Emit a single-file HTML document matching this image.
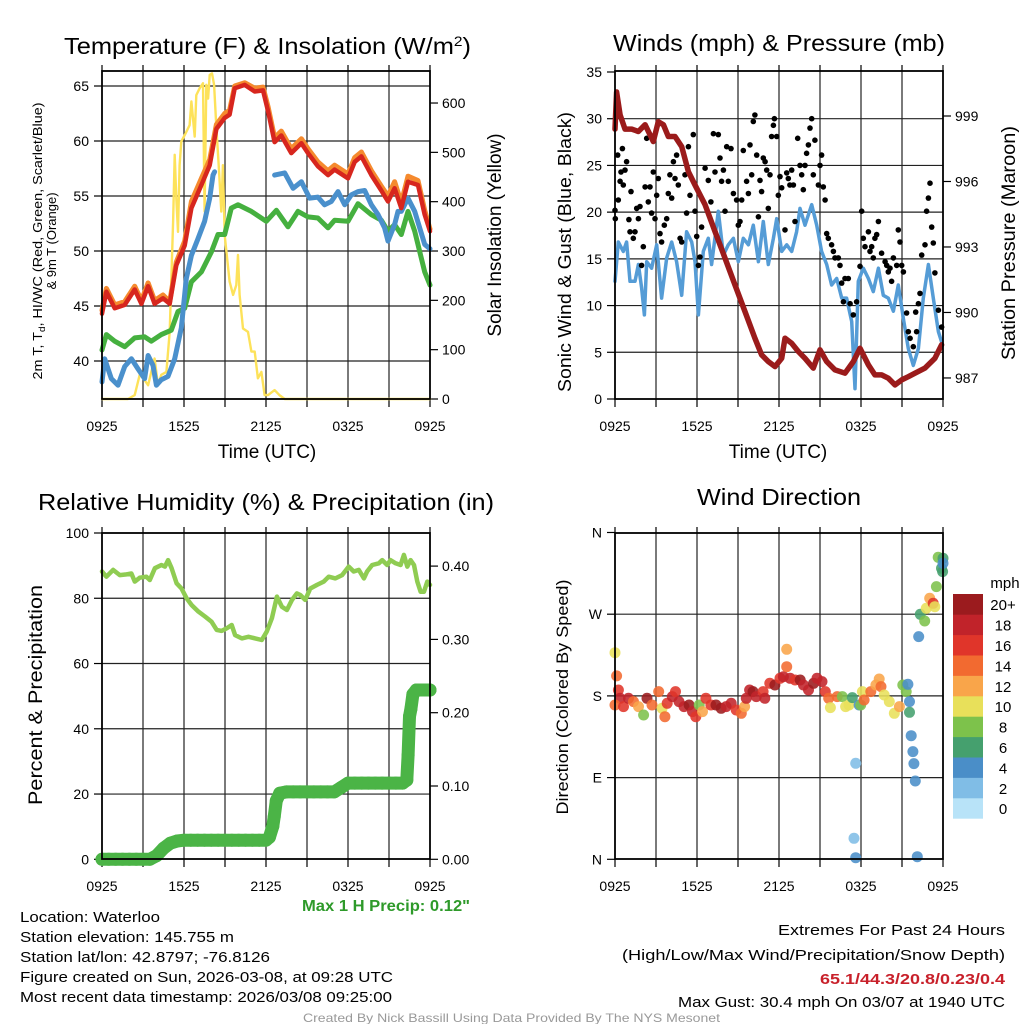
<!DOCTYPE html>
<html><head><meta charset="utf-8"><style>
html,body{margin:0;padding:0;background:#fff}
svg{display:block;font-family:"Liberation Sans",Arial,sans-serif}
</style></head><body>
<svg id="fig" width="1024" height="1024" viewBox="0 0 1024 1024" xmlns="http://www.w3.org/2000/svg">
<rect width="1024" height="1024" fill="#fff"/>
<g id="layer"></g>
<!-- titles -->
<text x="64" y="54" font-size="23" textLength="407" lengthAdjust="spacingAndGlyphs">Temperature (F) &amp; Insolation (W/m<tspan dy="-8" font-size="14">2</tspan><tspan dy="8">)</tspan></text>
<text x="613" y="51" font-size="23" textLength="332" lengthAdjust="spacingAndGlyphs">Winds (mph) &amp; Pressure (mb)</text>
<text x="38" y="510" font-size="23" textLength="456" lengthAdjust="spacingAndGlyphs">Relative Humidity (%) &amp; Precipitation (in)</text>
<text x="697" y="505" font-size="23" textLength="164" lengthAdjust="spacingAndGlyphs">Wind Direction</text>
<!-- axis titles -->
<text x="267" y="458" font-size="19" text-anchor="middle">Time (UTC)</text>
<text x="778" y="458" font-size="19" text-anchor="middle">Time (UTC)</text>
<text transform="translate(42,241) rotate(-90)" font-size="13" text-anchor="middle" textLength="277" lengthAdjust="spacingAndGlyphs">2m T, T<tspan dy="3" font-size="9">d</tspan><tspan dy="-3">, HI/WC (Red, Green, Scarlet/Blue)</tspan></text>
<text transform="translate(56,241) rotate(-90)" font-size="13" text-anchor="middle">&amp; 9m T (Orange)</text>
<text transform="translate(501,235) rotate(-90)" font-size="19" text-anchor="middle">Solar Insolation (Yellow)</text>
<text transform="translate(571,252) rotate(-90)" font-size="18" text-anchor="middle" textLength="280" lengthAdjust="spacingAndGlyphs">Sonic Wind &amp; Gust (Blue, Black)</text>
<text transform="translate(1015,243) rotate(-90)" font-size="19" text-anchor="middle" textLength="234" lengthAdjust="spacingAndGlyphs">Station Pressure (Maroon)</text>
<text transform="translate(42,695) rotate(-90)" font-size="19" text-anchor="middle" textLength="220" lengthAdjust="spacingAndGlyphs">Percent &amp; Precipitation</text>
<text transform="translate(568,697) rotate(-90)" font-size="17" text-anchor="middle" textLength="235" lengthAdjust="spacingAndGlyphs">Direction (Colored By Speed)</text>
<text x="302" y="911" font-size="16" font-weight="bold" fill="#2e9a2a" textLength="168" lengthAdjust="spacingAndGlyphs">Max 1 H Precip: 0.12"</text>
<!-- footer -->
<g font-size="15">
<text x="20" y="922" textLength="140" lengthAdjust="spacingAndGlyphs">Location: Waterloo</text>
<text x="20" y="942" textLength="214" lengthAdjust="spacingAndGlyphs">Station elevation: 145.755 m</text>
<text x="20" y="962" textLength="250" lengthAdjust="spacingAndGlyphs">Station lat/lon: 42.8797; -76.8126</text>
<text x="20" y="982" textLength="373" lengthAdjust="spacingAndGlyphs">Figure created on Sun, 2026-03-08, at 09:28 UTC</text>
<text x="20" y="1002" textLength="372" lengthAdjust="spacingAndGlyphs">Most recent data timestamp: 2026/03/08 09:25:00</text>
</g>
<g font-size="15">
<text x="1005" y="935" text-anchor="end" textLength="227" lengthAdjust="spacingAndGlyphs">Extremes For Past 24 Hours</text>
<text x="1005" y="960" text-anchor="end" textLength="383" lengthAdjust="spacingAndGlyphs">(High/Low/Max Wind/Precipitation/Snow Depth)</text>
<text x="1005" y="984" text-anchor="end" fill="#c8202a" font-weight="bold" textLength="185" lengthAdjust="spacingAndGlyphs">65.1/44.3/20.8/0.23/0.4</text>
<text x="1005" y="1007" text-anchor="end" textLength="327" lengthAdjust="spacingAndGlyphs">Max Gust: 30.4 mph On 03/07 at 1940 UTC</text>
</g>
<text x="303" y="1022" font-size="12" fill="#999" textLength="417" lengthAdjust="spacingAndGlyphs">Created By Nick Bassill Using Data Provided By The NYS Mesonet</text>
</svg>
<script>
// ---------- DATA ----------
const xTickLabels = ["0925","1525","2125","0325","0925"];
// Temperature panel
const tempT = [0,0.32,0.93,1.66,2.39,2.88,3.37,3.85,4.46,4.95,5.44,6.05,6.54,7.27,7.88,8.37,8.98,9.34,9.71,10.44,11.17,11.78,12.15,12.63,13.12,13.85,14.59,15.07,15.8,16.54,17.02,18.0,18.49,18.98,19.71,20.44,20.93,21.41,21.9,22.39,23.12,23.61,24];
const tempV = [44.3,46.3,44.8,45.1,46.5,45.2,46.8,45.2,45.7,45.2,48.7,50.5,53.9,56.0,57.8,61.1,62.1,62.4,64.8,65.1,64.5,64.6,62.7,59.9,60.5,58.9,59.8,58.9,57.7,56.9,57.4,56.6,58.1,58.6,56.9,55.5,54.5,55.7,53.9,56.3,56.0,53.3,51.8];
const temp9V = [44.6,46.6,45.1,45.4,46.8,45.5,47.1,45.5,46.0,45.4,49.0,50.9,54.5,56.6,58.3,61.5,62.5,62.8,65.0,65.3,64.8,64.9,63.1,60.3,60.9,59.3,60.2,59.3,58.1,57.3,57.8,57.0,58.5,59.0,57.3,55.9,55.0,56.3,54.4,56.8,56.4,53.7,52.0];
const dewT = [0,0.32,0.93,1.66,2.39,3.12,3.61,4.34,5.07,5.56,6.05,6.54,7.27,8.0,8.49,8.98,9.46,9.95,10.93,12.02,12.76,13.61,14.34,15.07,15.8,16.54,17.02,18.0,18.73,19.71,20.44,20.93,21.41,21.9,22.39,22.88,23.61,24];
const dewV = [41.0,42.4,41.8,41.3,42.1,42.2,41.8,42.4,42.8,44.5,44.8,47.2,48.1,49.9,51.5,51.5,53.9,54.2,53.6,52.7,53.7,52.2,53.6,53.1,53.0,52.1,52.8,52.7,54.3,53.3,52.8,51.8,52.4,51.5,53.6,51.8,48.1,46.9];
const wcT = [0,0.2,0.68,1.17,1.66,2.15,2.63,3.12,3.37,3.73,3.98,4.34,4.83,5.32,5.8,6.17,6.54,7.02,7.51,7.88,8.12,8.24,null,12.63,13.37,13.98,14.59,15.2,15.8,16.29,16.78,17.27,17.76,18.24,18.73,19.22,19.71,20.2,20.68,20.93,21.41,21.66,21.9,22.39,22.88,23.61,24];
const wcV = [38.1,40.2,38.4,37.8,39.5,40.2,39.3,38.4,40.5,39.6,37.8,38.3,38.6,40.2,43.0,47.5,49.6,51.1,52.7,54.8,56.9,57.2,null,56.9,57.1,55.7,56.3,54.8,54.9,54.2,54.5,55.4,54.2,55.1,55.4,55.5,54.2,53.3,52.1,50.9,52.4,53.6,53.6,54.8,53.6,50.6,50.2];
const solT = [0,1.9,2.39,2.76,3.0,3.37,3.61,3.85,4.1,4.34,4.71,4.95,5.2,5.32,5.44,5.56,5.68,5.8,6.05,6.41,6.54,6.78,6.9,7.15,7.39,7.51,7.63,7.76,7.88,8.05,8.2,8.37,8.54,8.73,8.85,8.98,9.1,9.34,9.59,9.83,9.95,10.07,10.32,10.68,10.93,11.17,11.41,11.66,11.9,12.15,12.63,12.98,13.37,24];
const solV = [0,0,8,49,43,28,55,82,28,49,55,136,359,495,407,339,474,522,535,555,603,532,616,630,640,380,637,609,657,660,637,549,474,380,474,332,299,238,211,231,292,211,143,136,96,96,42,55,8,8,18,8,0,0];
const tempTicks = [40,45,50,55,60,65];
const solTicks = [0,100,200,300,400,500,600];
// Winds panel
const presT = [0,0.12,0.37,0.73,1.22,1.71,2.2,2.8,3.17,3.54,3.9,4.39,4.88,5.37,5.85,6.59,7.32,8.05,8.78,9.51,10.24,10.73,11.22,11.71,12.2,12.44,12.93,13.41,13.9,14.51,15.0,15.49,16.1,16.83,17.44,17.93,18.54,19.02,19.51,20.0,20.49,20.98,21.46,21.95,22.68,23.41,23.9];
const presV = [998.4,1000.1,999.05,998.4,998.4,998.29,998.6,997.83,998.74,998.6,998.06,998.06,997.6,996.45,995.84,994.93,993.71,992.49,991.26,990.04,988.82,988.06,987.75,987.52,987.9,988.82,988.59,988.21,987.9,987.45,988.29,987.75,987.37,987.22,987.75,988.36,987.6,987.14,987.14,986.99,986.68,986.91,987.06,987.22,987.45,987.9,988.52];
const windT = [0,0.24,0.61,0.85,1.1,1.46,1.71,1.95,2.15,2.32,2.68,3.05,3.41,3.78,4.15,4.51,4.88,5.24,5.61,5.85,6.1,6.46,6.83,7.07,7.56,7.93,8.29,8.66,9.02,9.39,9.76,10.12,10.49,10.85,11.22,11.59,11.83,12.2,12.56,12.93,13.29,13.54,13.9,14.39,14.76,15.12,15.49,15.85,16.22,16.59,16.95,17.32,17.56,17.8,18.17,18.54,18.9,19.27,19.63,20,20.37,20.73,21.1,21.46,21.83,22.2,22.56,22.93,23.29,23.66,23.9];
const windV = [12.6,16.8,15.8,16.8,12.6,12.6,14.4,11.9,9.0,14.7,14.0,16.5,10.8,15.1,16.8,14.7,11.1,17.9,16.8,14.7,9.0,15.8,17.2,14.4,20.1,15.4,16.5,17.2,14.7,17.2,16.5,18.6,14.7,19.0,14.4,17.2,19.3,15.8,16.5,15.8,17.9,20.4,18.6,20.8,18.6,15.8,14.4,12.2,12.9,10.8,10.8,8.3,1.1,12.6,14.0,12.9,11.5,14.0,11.1,10.8,9.4,12.2,8.6,5.4,3.6,5.4,10.8,14.4,10.8,7.2,6.1];
const gustT = [0,0.02,0.2,0.24,0.37,0.44,0.54,0.61,0.73,0.85,1.02,1.1,1.17,1.34,1.46,1.59,1.71,1.83,1.95,2.07,2.2,2.32,2.44,2.56,2.68,2.8,2.93,3.05,3.17,3.29,3.41,3.61,3.78,3.9,4.02,4.15,4.27,4.39,4.51,4.63,4.76,4.88,5.12,5.24,5.37,5.49,5.73,5.85,5.98,6.1,6.22,6.34,6.59,6.83,7.02,7.2,7.32,7.56,7.68,7.8,7.93,8.05,8.17,8.29,8.49,8.66,8.9,9.02,9.15,9.27,9.39,9.63,9.76,9.88,10.0,10.12,10.24,10.37,10.49,10.61,10.73,10.85,10.98,11.1,11.22,11.34,11.46,11.59,11.66,11.83,11.95,12.07,12.2,12.44,12.56,12.68,12.8,12.93,13.05,13.17,13.37,13.54,13.66,13.78,13.9,14.02,14.15,14.27,14.39,14.51,14.63,14.88,15.0,15.12,15.24,15.37,15.49,15.61,15.85,15.98,16.1,16.34,16.46,16.59,16.71,16.83,17.07,17.2,17.44,17.68,17.93,18.05,18.17,18.29,18.54,18.66,18.78,18.9,19.02,19.15,19.27,19.51,19.76,19.88,20.0,20.12,20.24,20.37,20.61,20.73,20.85,20.98,21.1,21.34,21.46,21.59,21.83,22.0,22.07,22.2,22.32,22.44,22.68,22.8,22.93,23.05,23.17,23.29,23.41,23.66,23.9];
const gustV = [20.2,19.3,26.1,21.3,23.3,24.3,26.8,22.9,24.5,25.4,19.2,17.9,22.2,17.2,17.9,20.4,19.3,20.6,14.3,16.3,22.7,27.9,21.1,22.7,19.9,24.3,19.3,21.8,23.6,17.7,16.8,18.6,19.3,22.0,24.0,21.5,25.4,23.6,26.1,22.9,17.2,16.8,24.0,19.9,27.0,21.8,28.3,20.1,17.4,14.3,15.2,18.4,24.7,23.4,21.1,28.4,24.3,28.3,25.8,23.3,24.5,20.1,27.0,23.3,26.8,22.0,21.3,18.6,19.0,21.3,26.6,23.3,22.0,27.2,24.0,29.7,30.4,26.1,19.5,23.4,22.2,25.8,25.4,24.5,20.4,24.0,28.1,29.3,30.0,28.1,21.8,23.8,22.6,18.1,24.2,23.6,22.9,24.5,22.9,19.0,27.9,25.0,24.0,22.4,25.0,26.3,27.2,29.0,30.0,24.0,27.7,22.9,25.0,26.1,22.7,21.3,17.7,17.2,16.5,15.8,15.1,15.1,14.3,12.4,10.4,12.9,12.9,10.2,9.0,10.4,14.2,20.1,17.2,16.3,17.9,15.8,16.3,15.1,17.2,17.6,19.0,15.6,14.7,14.3,13.6,14.0,12.6,15.1,14.3,18.1,16.8,14.3,13.6,9.2,7.2,6.5,5.6,9.3,7.2,10.2,11.3,15.4,16.5,20.1,21.5,23.1,18.4,16.7,13.5,9.5,7.7];
const windTicks = [0,5,10,15,20,25,30,35];
const presTicks = [987,990,993,996,999];
// Humidity / precipitation panel
const rhT = [0,0.32,0.81,1.3,1.79,2.15,2.4,2.76,3.25,3.5,3.87,4.35,4.6,4.84,5.09,5.46,5.82,6.19,6.56,7.05,7.54,8.02,8.39,8.76,9.13,9.49,9.74,10.23,10.72,11.21,11.69,12.06,12.43,12.8,13.16,13.53,13.9,14.26,14.51,14.87,15.24,15.73,16.22,16.59,17.08,17.57,18.05,18.42,18.79,19.16,19.4,19.77,20.26,20.5,20.87,21.11,21.48,21.85,22.09,22.34,22.58,22.83,23.07,23.31,23.56,23.8,24];
const rhV = [88.2,86.6,88.7,87.1,87.3,87.6,85.1,86.3,86.6,85.6,89.2,90.2,89.7,91.7,89.2,84.6,83.0,80.0,77.9,75.9,74.4,72.8,70.3,70.0,70.8,71.8,68.7,67.7,68.2,67.7,67.2,69.8,73.9,80.5,77.4,76.4,79.5,81.5,81.0,79.5,83.0,84.1,85.1,86.6,86.1,87.1,89.7,88.2,88.7,86.1,88.2,90.2,90.7,91.7,90.2,91.7,90.7,90.2,93.3,89.7,91.7,90.2,85.1,82.0,82.0,85.1,84.1];
const precT = [0,0.5,1,1.5,2,2.5,3,3.5,4,4.5,5,5.5,6,6.5,7,7.5,8,8.5,9,9.5,10,10.5,11,11.5,12,12.25,12.5,12.6,12.75,13,13.5,14,14.5,15,15.5,16,16.5,17,17.5,18,18.5,19,19.5,20,20.5,21,21.5,22,22.3,22.4,22.5,22.6,22.75,23,23.25,23.5,23.75,24];
const precV = [0,0,0,0,0,0,0,0,0.005,0.015,0.022,0.025,0.026,0.026,0.026,0.026,0.026,0.026,0.026,0.026,0.026,0.026,0.026,0.026,0.026,0.03,0.045,0.058,0.08,0.09,0.092,0.092,0.092,0.092,0.092,0.092,0.092,0.092,0.098,0.104,0.104,0.104,0.104,0.104,0.104,0.104,0.104,0.104,0.108,0.142,0.195,0.205,0.225,0.231,0.231,0.231,0.231,0.231];
const rhTicks = [0,20,40,60,80,100];
const precTicks = [0,0.1,0.2,0.3,0.4];
const precTickLabels = ["0.00","0.10","0.20","0.30","0.40"];
// Wind direction panel
const dirT = [0,0.12,0.25,0.37,0,0.62,0.99,1.35,1.72,2.09,2.34,2.71,3.2,3.45,3.65,3.82,4.19,4.43,4.68,5.05,5.42,5.67,5.91,6.16,6.4,6.65,7.02,7.39,7.76,8.13,8.5,8.87,9.24,9.48,9.61,9.85,10.1,10.34,10.84,10.96,11.33,11.7,12.07,12.32,12.56,12.56,12.81,13.18,13.55,13.79,14.16,14.53,14.78,15.15,15.39,15.64,15.76,16.26,16.63,16.87,17.12,17.36,17.61,17.49,17.61,17.86,17.98,18.1,18.23,18.72,19.09,19.33,19.46,19.7,20.07,20.44,20.81,21.06,21.31,21.43,21.55,21.55,21.67,21.8,21.87,21.97,22.12,22.22,22.34,22.66,22.78,23.03,23.28,23.4,23.52,23.65,23.89,23.97,24,24];
const dirV = [227.6,202,186.5,177.3,170,168.2,177.3,173.7,168.2,159,177.3,170,184.7,166.3,157.1,171.8,179.2,184.7,173.7,168.2,170,162.7,157.1,170,162.7,177.3,170,170,166.3,168.2,171.8,164.5,160.8,168.2,177.3,186.5,184.7,179.2,184.7,177.3,193.9,192,199.4,201.2,212.2,231.3,199.4,197.5,197.5,192,186.5,193.9,199.4,195.7,184.7,177.3,167.1,179.2,179.2,168.2,170,178.1,105.7,23.1,1.8,170,170,184.7,175.5,184.7,192,198.6,190.2,181,173.7,160.8,168.2,192,184.7,192.8,173.7,161.9,136.2,118.6,105.4,86.3,2.9,245.3,269.9,262.5,276.5,287.5,282,278.3,300.4,332.7,320.6,316.9,331.6,326.1];
const dirS = [10,13,16,17,13,16,17,13,12,8,19,13,14,10,14,16,17,16,17,17,19,17,16,8,12,15,16,19,20,17,17,16,14,12,17,17,19,17,16,17,16,19,16,17,14,12,17,16,19,17,17,19,17,17,16,13,10,13,8,10,10,6,1,2,4,4,7,10,14,13,12,12,14,10,10,10,12,8,7,4,4,6,3,4,4,3,4,4,5,7,10,12,15,10,8,8,6,6,6,4];
const dirTicks = [0,90,180,270,360];
const dirTickLabels = ["N","E","S","W","N"];
const cbLabels = ["0","2","4","6","8","10","12","14","16","18","20+"];
const cbColors = ["#b8e3f8","#80bde6","#4a8ec8","#45a06e","#7dc24b","#e8e05a","#f9a54a","#f26a30","#e0352a","#c1232a","#9b1b1e"];

// ---------- DRAW ----------
const NS="http://www.w3.org/2000/svg";
const layer=document.getElementById('layer');
function mk(tag,attrs,parent){const e=document.createElementNS(NS,tag);for(const k in attrs)e.setAttribute(k,attrs[k]);(parent||layer).appendChild(e);return e;}
const P={
  temp:{x0:102,x1:430,y0:71,y1:399},
  wind:{x0:615,x1:943,y0:71,y1:399},
  rh:{x0:102,x1:430,y0:533,y1:859},
  dir:{x0:615,x1:943,y0:533,y1:859}
};
function xs(p,t){return p.x0+t*(p.x1-p.x0)/24;}
const yTemp=v=>86+(65-v)*11;
const ySol=v=>399-v*0.4933;
const yWind=v=>399-v*9.343;
const yPres=v=>116+(999-v)*21.83;
const yRH=v=>859.3-v*3.263;
const yPrec=v=>859.3-v*733;
const yDir=v=>859.3-v*0.9078;

function frame(p,name,hGrid,yf){
  const g=mk('g',{});
  
  
  for(let h=3;h<24;h+=3){
    const l=mk('line',{x1:xs(p,h),x2:xs(p,h),y1:p.y0,y2:p.y1,stroke:'#222','stroke-width':1.2},g);
    
    
  }
  hGrid.forEach(v=>{
    const l=mk('line',{x1:p.x0,x2:p.x1,y1:yf(v),y2:yf(v),stroke:'#222','stroke-width':1.2},g);
    
    
  });
  for(let h=0;h<=24;h+=3){
    mk('line',{x1:xs(p,h),x2:xs(p,h),y1:p.y1,y2:p.y1+8,stroke:'#000','stroke-width':1.2},g);
    mk('line',{x1:xs(p,h),x2:xs(p,h),y1:p.y0,y2:p.y0-6,stroke:'#000','stroke-width':1.2},g);
  }
  xTickLabels.forEach((s,i)=>{
    const t=mk('text',{x:xs(p,i*6),y:p.y1+32,'font-size':14,'text-anchor':'middle'},g);
    t.textContent=s;
    
    
  });
  return g;
}
function border(p,name){
  const r=mk('rect',{x:p.x0,y:p.y0,width:p.x1-p.x0,height:p.y1-p.y0,fill:'none',stroke:'#000','stroke-width':1.8});
  
  
}
function yTicks(p,vals,labels,yf,side,name){
  const g=mk('g',{});
  
  
  vals.forEach((v,i)=>{
    const y=yf(v);
    if(side==='L'){
      mk('line',{x1:p.x0-8,x2:p.x0,y1:y,y2:y,stroke:'#000','stroke-width':1.2},g);
      const t=mk('text',{x:p.x0-13,y:y+5,'font-size':14,'text-anchor':'end'},g);t.textContent=labels[i];
    }else{
      mk('line',{x1:p.x1,x2:p.x1+8,y1:y,y2:y,stroke:'#000','stroke-width':1.2},g);
      const t=mk('text',{x:p.x1+12,y:y+5,'font-size':14},g);t.textContent=labels[i];
    }
  });
}
function linePath(p,T,V,yf,color,w,name){
  let d='',pen=false;
  for(let i=0;i<T.length;i++){
    if(T[i]===null||V[i]===null){pen=false;continue;}
    d+=(pen?'L':'M')+xs(p,T[i]).toFixed(1)+','+yf(V[i]).toFixed(1);pen=true;
  }
  const e=mk('path',{d:d,fill:'none',stroke:color,'stroke-width':w,'stroke-linejoin':'round','stroke-linecap':'round'});
  
  
  return e;
}
function dots(p,T,V,yf,color,r,name){
  const g=mk('g',{});
  
  
  for(let i=0;i<T.length;i++){
    const c=mk('circle',{cx:xs(p,T[i]).toFixed(1),cy:yf(V[i]).toFixed(1),r:r,fill:color},g);
    
    
  }
}

// Temperature panel
frame(P.temp,'temperature',tempTicks,yTemp);
yTicks(P.temp,tempTicks,tempTicks.map(String),yTemp,'L','temperature-y-ticks');
yTicks(P.temp,solTicks,solTicks.map(String),ySol,'R','insolation-y-ticks');
linePath(P.temp,solT,solV,ySol,'#fde25a',2.4,'solar-insolation-line');
linePath(P.temp,dewT,dewV,yTemp,'#45b03f',5,'dewpoint-line');
linePath(P.temp,wcT,wcV,yTemp,'#4a90cc',5,'windchill-line');
linePath(P.temp,tempT,temp9V,yTemp,'#f58a2e',5,'temperature-9m-line');
linePath(P.temp,tempT,tempV,yTemp,'#d7261e',4.5,'temperature-2m-line');
border(P.temp,'temperature');

// Winds panel
frame(P.wind,'winds',[5,10,15,20,25,30],yWind);
yTicks(P.wind,windTicks,windTicks.map(String),yWind,'L','wind-y-ticks');
yTicks(P.wind,presTicks,presTicks.map(String),yPres,'R','pressure-y-ticks');
linePath(P.wind,windT,windV,yWind,'#559cd6',3.5,'wind-speed-line');
dots(P.wind,gustT,gustV,yWind,'#000',2.8,'wind-gust');
linePath(P.wind,presT,presV,yPres,'#9b1b1b',5.5,'pressure-line');
border(P.wind,'winds');

// Humidity panel
frame(P.rh,'humidity',[20,40,60,80],yRH);
yTicks(P.rh,rhTicks,rhTicks.map(String),yRH,'L','humidity-y-ticks');
yTicks(P.rh,precTicks,precTickLabels,yPrec,'R','precip-y-ticks');
linePath(P.rh,rhT,rhV,yRH,'#8fcc52',4.5,'relative-humidity-line');
linePath(P.rh,precT,precV,yPrec,'#4bb446',13,'precipitation-band');
dots(P.rh,precT,precV,yPrec,'#4bb446',6.5,'precipitation');
border(P.rh,'humidity');

// Direction panel
frame(P.dir,'direction',[90,180,270],yDir);
yTicks(P.dir,dirTicks,dirTickLabels,yDir,'L','direction-y-ticks');
{
  const g=mk('g',{});
  
  
  for(let i=0;i<dirT.length;i++){
    const k=Math.min(10,Math.max(0,Math.round(dirS[i]/2)));
    const c=mk('circle',{cx:xs(P.dir,dirT[i]).toFixed(1),cy:yDir(dirV[i]).toFixed(1),r:5.5,fill:cbColors[k],'fill-opacity':0.88},g);
    
    
  }
}
border(P.dir,'direction');
// colorbar
{
  const g=mk('g',{});
  
  
  const top=594,bh=20.4;
  for(let i=0;i<11;i++){
    const y=top+(10-i)*bh;
    const r=mk('rect',{x:953,y:y,width:30,height:bh+0.3,fill:cbColors[i]},g);
    
    
    const t=mk('text',{x:1003,y:y+bh/2+6,'font-size':15,'text-anchor':'middle'},g);
    t.textContent=cbLabels[i];
  }
  const u=mk('text',{x:1005,y:588,'font-size':15,'text-anchor':'middle'},g);
  u.textContent='mph';
  
  
}
</script>
</body></html>
